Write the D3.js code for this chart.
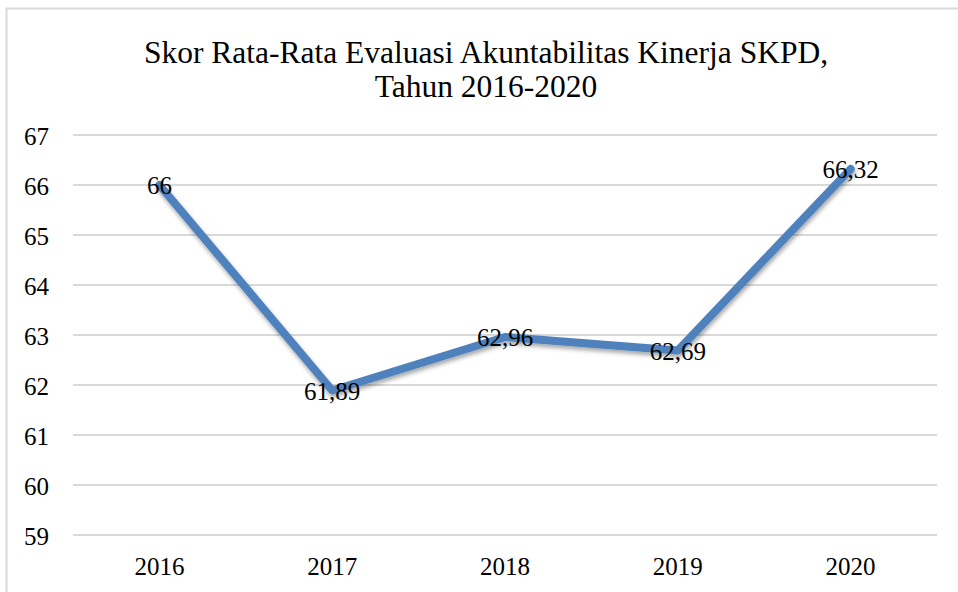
<!DOCTYPE html>
<html>
<head>
<meta charset="utf-8">
<script src="https://cdn.jsdelivr.net/npm/d3@7"></script>
<style>
body { margin: 0; background: #fff; }
svg text { font-family: "Liberation Serif", "Times New Roman", serif !important; fill: #000; }
</style>
</head>
<body>
<div id="chart"></div>
<script>
var years = ["2016", "2017", "2018", "2019", "2020"];
var scores = [66, 61.89, 62.96, 62.69, 66.32];
var yTicks = [59, 60, 61, 62, 63, 64, 65, 66, 67];
var titleLines = ["Skor Rata-Rata Evaluasi Akuntabilitas Kinerja SKPD,", "Tahun 2016-2020"];

var w = 958;
var h = 592;

var svg = d3.select("#chart")
    .append("svg")
    .attr("width", w)
    .attr("height", h);

// soft shadow under the line
var defs = svg.append("defs");
var f = defs.append("filter").attr("id", "shadow")
    .attr("x", "-10%").attr("y", "-10%").attr("width", "120%").attr("height", "130%");
f.append("feDropShadow")
    .attr("dx", 1).attr("dy", 3).attr("stdDeviation", 2)
    .attr("flood-color", "#000").attr("flood-opacity", 0.35);

// chart border (left + top visible)
svg.append("path")
    .attr("d", "M6.5," + h + "V8.5H" + w)
    .attr("fill", "none")
    .attr("stroke", "#d9d9d9")
    .attr("stroke-width", 2);

svg.selectAll(".title")
    .data(titleLines)
    .enter()
    .append("text")
    .attr("class", "title")
    .attr("x", 486)
    .attr("y", function (d, i) { return 63 + i * 34; })
    .attr("text-anchor", "middle")
    .attr("font-size", 31.5)
    .text(function (d) { return d; });

var x = d3.scaleBand()
    .domain(years)
    .range([73, 937]);

var y = d3.scaleLinear()
    .domain([59, 67])
    .range([535, 135]);

// gridlines
svg.append("g")
    .selectAll("line")
    .data(yTicks)
    .enter()
    .append("line")
    .attr("x1", 73)
    .attr("x2", 937)
    .attr("y1", function (d) { return y(d); })
    .attr("y2", function (d) { return y(d); })
    .attr("stroke", "#d9d9d9")
    .attr("stroke-width", 2);

var yAxis = svg.append("g")
    .attr("transform", "translate(49,0)")
    .call(d3.axisLeft(y).tickValues(yTicks).tickSize(0).tickPadding(0));
yAxis.select(".domain").remove();
yAxis.selectAll("text")
    .attr("font-size", 25)
    .attr("dy", 9);

var xAxis = svg.append("g")
    .attr("transform", "translate(0,575)")
    .call(d3.axisBottom(x).tickSize(0).tickPadding(0));
xAxis.select(".domain").remove();
xAxis.selectAll("text")
    .attr("font-size", 25)
    .attr("y", 0)
    .attr("dy", 0);

var pts = years.map(function (d, i) { return [d, scores[i]]; });

var line = d3.line()
    .x(function (d) { return x(d[0]) + x.bandwidth() / 2; })
    .y(function (d) { return y(d[1]); });

svg.append("path")
    .datum(pts)
    .attr("d", line)
    .attr("fill", "none")
    .attr("stroke", "#4f81bd")
    .attr("stroke-width", 8)
    .attr("stroke-linejoin", "round")
    .attr("stroke-linecap", "round")
    .attr("filter", "url(#shadow)");

svg.selectAll(".lbl")
    .data(pts)
    .enter()
    .append("text")
    .attr("class", "lbl")
    .attr("x", function (d) { return x(d[0]) + x.bandwidth() / 2; })
    .attr("y", function (d) { return y(d[1]); })
    .attr("dy", 9)
    .attr("text-anchor", "middle")
    .attr("font-size", 25)
    .text(function (d) { return String(d[1]).replace(".", ","); });
</script>
</body>
</html>
